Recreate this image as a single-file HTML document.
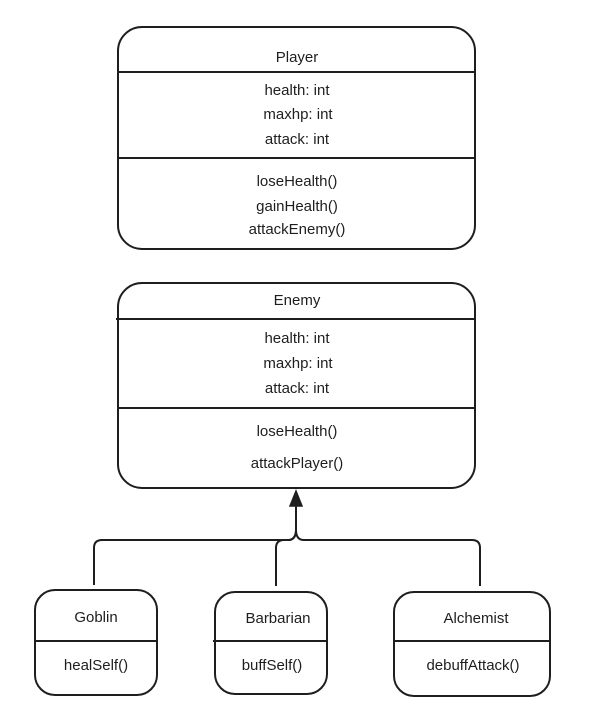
<!DOCTYPE html>
<html><head><meta charset="utf-8"><style>
html,body{margin:0;padding:0;background:#fff;}
svg{display:block;}
text{font-family:"Liberation Sans",sans-serif;font-size:15px;fill:#1e1e1e;text-anchor:middle;}
</style></head><body>
<svg width="596" height="727" viewBox="0 0 596 727" xmlns="http://www.w3.org/2000/svg">
<g fill="none" stroke="#1e1e1e" stroke-width="2">
<rect x="118" y="27" width="357" height="222" rx="24"/>
<line x1="118" y1="72" x2="475" y2="72"/>
<line x1="118" y1="158" x2="475" y2="158"/>
<rect x="118" y="283" width="357" height="205" rx="24"/>
<line x1="116" y1="319" x2="475" y2="319"/>
<line x1="118" y1="408" x2="475" y2="408"/>
<rect x="35" y="590" width="122" height="105" rx="20"/>
<line x1="34" y1="641" x2="157" y2="641"/>
<rect x="215" y="592" width="112" height="102" rx="20"/>
<line x1="213" y1="641" x2="328" y2="641"/>
<rect x="394" y="592" width="156" height="104" rx="20"/>
<line x1="393" y1="641" x2="551" y2="641"/>
<path d="M94 585 V548 Q94 540 102 540 H288 Q296 540 296 530 V500"/>
<path d="M276 586 V548 Q276 540 284 540 H290 Q296 538 296 530"/>
<path d="M480 586 V548 Q480 540 472 540 H304 Q296 540 296 530"/>
</g>
<polygon points="296,491 290,506 302,506" fill="#1e1e1e" stroke="#1e1e1e" stroke-width="1.5"/>
<text x="297" y="62">Player</text>
<text x="297" y="95">health: int</text>
<text x="298" y="119">maxhp: int</text>
<text x="297" y="144">attack: int</text>
<text x="297" y="186">loseHealth()</text>
<text x="297" y="211">gainHealth()</text>
<text x="297" y="234">attackEnemy()</text>
<text x="297" y="305">Enemy</text>
<text x="297" y="343">health: int</text>
<text x="298" y="368">maxhp: int</text>
<text x="297" y="393">attack: int</text>
<text x="297" y="436">loseHealth()</text>
<text x="297" y="468">attackPlayer()</text>
<text x="96" y="622">Goblin</text>
<text x="96" y="670">healSelf()</text>
<text x="278" y="623">Barbarian</text>
<text x="272" y="670">buffSelf()</text>
<text x="476" y="623">Alchemist</text>
<text x="473" y="670">debuffAttack()</text>
</svg>
</body></html>
